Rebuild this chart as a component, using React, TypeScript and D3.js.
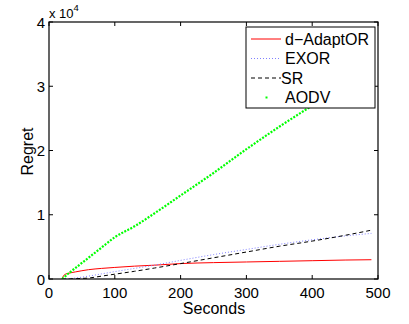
import React, { useEffect, useRef } from "react";
import * as d3 from "d3";

// seconds at which the curves were sampled
const seconds = [20, 22, 25, 30, 40, 60, 80, 100, 130, 160, 200, 250, 300, 350, 400, 450, 490];

const adaptor = [0, 500, 750, 900, 1100, 1450, 1650, 1800, 2000, 2150, 2400, 2550, 2650, 2750, 2850, 2950, 3000];
const exor = [0, 10, 20, 50, 150, 450, 800, 1150, 1650, 2150, 2900, 3800, 4600, 5400, 6100, 6700, 7100];
const sr = [0, 0, 0, 0, 50, 150, 450, 750, 1200, 1700, 2400, 3300, 4200, 5100, 5900, 6800, 7600];
const aodv = [0, 180, 450, 900, 1700, 3300, 4900, 6500, 8200, 10200, 13000, 16500, 20200, 23700, 27000, 30300, 33000];

const xTicks = [0, 100, 200, 300, 400, 500];
const yTicks = [0, 10000, 20000, 30000, 40000];

const seriesNames = ["d\u2212AdaptOR", "EXOR", "SR", "AODV"];

const App = () => {
  const ref = useRef<SVGSVGElement>(null);

  useEffect(() => {
    const svg = d3.select(ref.current);
    svg.selectAll("*").remove();

    const margin = { top: 22, right: 31, bottom: 45, left: 49 };
    const width = 409 - margin.left - margin.right;
    const height = 324 - margin.top - margin.bottom;
    const font = "'Liberation Sans', Arial, sans-serif";

    const x = d3.scaleLinear().domain([0, 500]).range([0, width]);
    const y = d3.scaleLinear().domain([0, 40000]).range([height, 0]);

    const g = svg.append("g").attr("transform", `translate(${margin.left},${margin.top})`);

    const series = [
      { name: seriesNames[0], values: adaptor, color: "#ff0000", dash: null, w: 1 },
      { name: seriesNames[1], values: exor, color: "#8080ff", dash: "1,2", w: 1 },
      { name: seriesNames[2], values: sr, color: "#000000", dash: "4,3", w: 1 },
      { name: seriesNames[3], values: aodv, color: "#00ff00", dash: "2,1.4", w: 2.2 },
    ];

    const line = d3.line<number>()
      .x((_, i) => x(seconds[i]))
      .y(d => y(d))
      .curve(d3.curveMonotoneX);

    // clip to the axes box
    svg.append("defs").append("clipPath").attr("id", "plotclip")
      .append("rect").attr("width", width).attr("height", height);

    const plot = g.append("g").attr("clip-path", "url(#plotclip)");
    series.forEach(s => {
      plot.append("path")
        .datum(s.values)
        .attr("d", line)
        .attr("fill", "none")
        .attr("stroke", s.color)
        .attr("stroke-width", s.w)
        .attr("stroke-dasharray", s.dash);
    });

    // axes box with inward ticks
    g.append("rect").attr("width", width).attr("height", height)
      .attr("fill", "none").attr("stroke", "#000").attr("stroke-width", 1.2);

    const tickLen = 4;
    xTicks.forEach(t => {
      g.append("line").attr("x1", x(t)).attr("x2", x(t)).attr("y1", height).attr("y2", height - tickLen).attr("stroke", "#000");
      g.append("line").attr("x1", x(t)).attr("x2", x(t)).attr("y1", 0).attr("y2", tickLen).attr("stroke", "#000");
      g.append("text").attr("x", x(t)).attr("y", height + 18.5)
        .attr("text-anchor", "middle").style("font-family", font).style("font-size", "15px")
        .text(t);
    });
    yTicks.forEach(t => {
      g.append("line").attr("x1", 0).attr("x2", tickLen).attr("y1", y(t)).attr("y2", y(t)).attr("stroke", "#000");
      g.append("line").attr("x1", width).attr("x2", width - tickLen).attr("y1", y(t)).attr("y2", y(t)).attr("stroke", "#000");
      g.append("text").attr("x", -4).attr("y", y(t) + 5.5)
        .attr("text-anchor", "end").style("font-family", font).style("font-size", "15px")
        .text(t / 10000);
    });

    // exponent label
    const expo = g.append("text").attr("x", 0).attr("y", -4)
      .style("font-family", font).style("font-size", "13px");
    expo.append("tspan").text("x 10");
    expo.append("tspan").attr("dy", -7).style("font-size", "9.5px").text("4");

    g.append("text").attr("x", width / 2 + 0.5).attr("y", height + 34.5)
      .attr("text-anchor", "middle").style("font-family", font).style("font-size", "16px")
      .text("Seconds");

    g.append("text")
      .attr("transform", `translate(${-16},${height / 2 + 1}) rotate(-90)`)
      .attr("text-anchor", "middle").style("font-family", font).style("font-size", "16px")
      .text("Regret");

    // legend
    const lx = 246 - margin.left, ly = 27 - margin.top;
    const legend = g.append("g").attr("transform", `translate(${lx},${ly})`);
    legend.append("rect").attr("width", 129).attr("height", 81)
      .attr("fill", "#fff").attr("stroke", "#000").attr("stroke-width", 1);
    series.forEach((s, i) => {
      const cy = 12 + i * 19.5;
      if (i === 3) {
        legend.append("rect").attr("x", 19.5).attr("y", cy - 1).attr("width", 2).attr("height", 2).attr("fill", s.color);
      } else {
        legend.append("line").attr("x1", 5).attr("x2", 35).attr("y1", cy).attr("y2", cy)
          .attr("stroke", s.color).attr("stroke-width", s.w).attr("stroke-dasharray", s.dash);
      }
      legend.append("text").attr("x", i === 2 ? 35 : 39).attr("y", cy + 5.5)
        .style("font-family", font).style("font-size", "16px")
        .text(s.name);
    });
  }, []);

  return <svg ref={ref} width={409} height={324} style={{ position: "absolute", left: 0, top: 0, background: "#fff" }} />;
};

export default App;
